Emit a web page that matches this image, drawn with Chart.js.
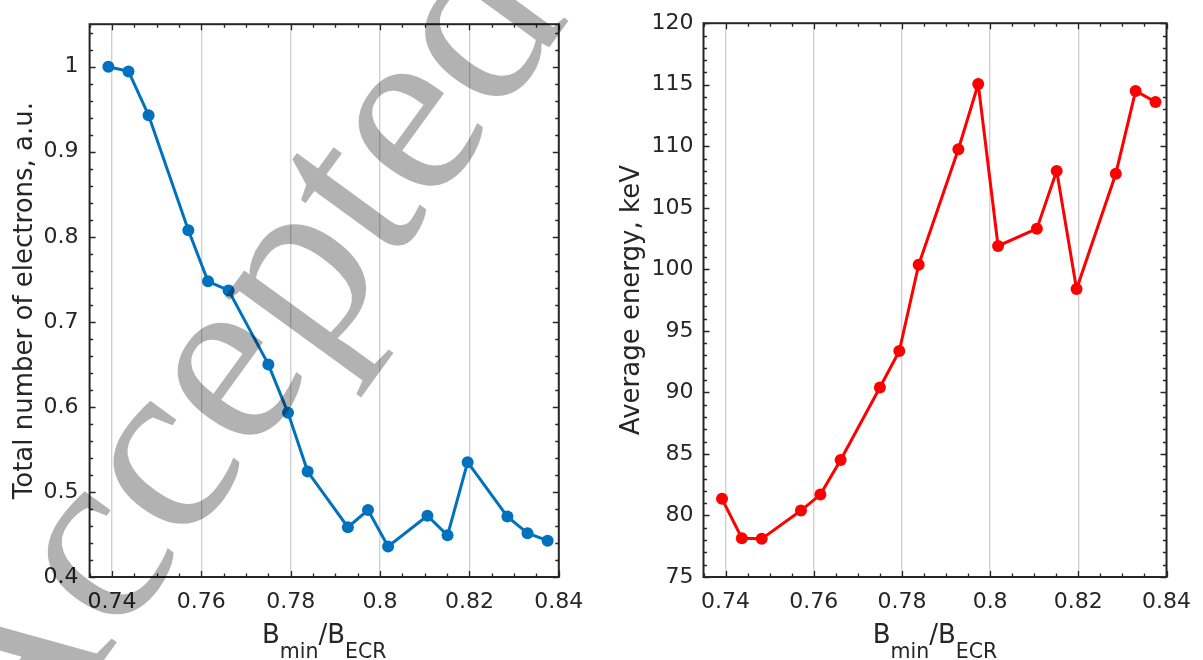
<!DOCTYPE html>
<html>
<head>
<meta charset="utf-8">
<script src="https://cdn.jsdelivr.net/npm/chart.js@4/dist/chart.umd.min.js"></script>
<style>
  body { margin: 0; background: #fff; }
  #wrap { position: relative; width: 1203px; height: 660px; }
  #left { position: absolute; left: 0; top: 0; }
  #right { position: absolute; left: 600px; top: 0; }
</style>
</head>
<body>
<div id="wrap">
  <canvas id="left" width="600" height="660"></canvas>
  <canvas id="right" width="603" height="660"></canvas>
</div>
<script>
// B_min / B_ECR values (shared by both panels)
const bRatio = [0.7392, 0.7437, 0.7482, 0.7571, 0.7615, 0.7661, 0.7750, 0.7794, 0.7838,
                0.7928, 0.7973, 0.8018, 0.8106, 0.8151, 0.8196, 0.8285, 0.8330, 0.8375];
const electrons = [1.0, 0.9945, 0.943, 0.8077, 0.7477, 0.737, 0.650, 0.593, 0.524,
                   0.4585, 0.4787, 0.436, 0.472, 0.449, 0.535, 0.471, 0.4515, 0.4427];
const energy = [81.35, 78.15, 78.1, 80.4, 81.7, 84.5, 90.4, 93.36, 100.38,
                109.76, 115.06, 101.9, 103.3, 108.0, 98.4, 107.77, 114.5, 113.6];

const xTicks = [0.74, 0.76, 0.78, 0.8, 0.82, 0.84];
const electronTicks = [0.4, 0.5, 0.6, 0.7, 0.8, 0.9, 1];
const energyTicks = [75, 80, 85, 90, 95, 100, 105, 110, 115, 120];

const electronTitle = 'Total number of electrons, a.u.';
const energyTitle = 'Average energy, keV';
// [text, isSubscript]
const xTitleParts = [['B', false], ['min', true], ['/B', false], ['ECR', true]];
const watermarkText = 'Accepted';

const INK = '#262626';
const FONT = 'DejaVu Sans';

// box round the plot with inward major/minor ticks on all four sides
const boxPlugin = {
  id: 'box',
  beforeDatasetsDraw(chart, args, opts) {
    const { ctx, chartArea: a, scales: { x, y } } = chart;
    ctx.save();
    ctx.strokeStyle = INK;
    ctx.lineWidth = 1.3;
    const isMajor = (v, list) => list.some(t => Math.abs(t - v) < 1e-9);

    const xn = Math.floor((x.max - x.min) / opts.xMinor + 1e-6);
    for (let i = 0; i <= xn; i++) {
      const v = x.min + i * opts.xMinor;
      const len = isMajor(v, xTicks) ? 6 : 3.5;
      const px = Math.round(x.getPixelForValue(v)) + 0.5;
      ctx.beginPath();
      ctx.moveTo(px, a.bottom); ctx.lineTo(px, a.bottom - len);
      ctx.moveTo(px, a.top); ctx.lineTo(px, a.top + len);
      ctx.stroke();
    }
    const yn = Math.floor((y.max - y.min) / opts.yMinor + 1e-6);
    for (let i = 0; i <= yn; i++) {
      const v = y.min + i * opts.yMinor;
      const len = isMajor(v, opts.yMajor) ? 6 : 3.5;
      const py = Math.round(y.getPixelForValue(v)) + 0.5;
      ctx.beginPath();
      ctx.moveTo(a.left, py); ctx.lineTo(a.left + len, py);
      ctx.moveTo(a.right, py); ctx.lineTo(a.right - len, py);
      ctx.stroke();
    }
    ctx.lineWidth = 2;
    ctx.strokeRect(a.left, a.top, a.right - a.left, a.bottom - a.top);
    ctx.restore();
  }
};

// x axis title with subscripts
const xTitlePlugin = {
  id: 'xTitle',
  afterDraw(chart) {
    const { ctx, chartArea: a } = chart;
    ctx.save();
    ctx.fillStyle = INK;
    ctx.textBaseline = 'alphabetic';
    const fontFor = sub => (sub ? 20.5 : 26) + 'px "' + FONT + '"';
    let total = 0;
    const widths = xTitleParts.map(([t, sub]) => {
      ctx.font = fontFor(sub);
      const w = ctx.measureText(t).width;
      total += w;
      return w;
    });
    let cx = (a.left + a.right) / 2 - total / 2;
    const base = a.bottom + 66;
    xTitleParts.forEach(([t, sub], i) => {
      ctx.font = fontFor(sub);
      ctx.fillText(t, cx, sub ? base + 15 : base);
      cx += widths[i];
    });
    ctx.restore();
  }
};

// grey "Accepted" stamp over the left panel
const watermarkPlugin = {
  id: 'watermark',
  afterDraw(chart) {
    const ctx = chart.ctx;
    ctx.save();
    ctx.translate(11, 788);
    ctx.rotate(-54 * Math.PI / 180);
    ctx.font = '252px "Liberation Serif"';
    ctx.fillStyle = 'rgba(0,0,0,0.3)';
    ctx.textBaseline = 'alphabetic';
    ctx.fillText(watermarkText, 0, 0);
    ctx.restore();
  }
};

function makeChart(id, values, color, yTicks, yMin, yMax, yMinor, title, layout, plugins) {
  return new Chart(document.getElementById(id), {
    type: 'line',
    data: {
      datasets: [{
        data: bRatio.map((b, i) => ({ x: b, y: values[i] })),
        borderColor: color,
        backgroundColor: color,
        borderWidth: 3,
        pointRadius: 6,
        pointBorderWidth: 0,
        pointBackgroundColor: color,
        tension: 0
      }]
    },
    options: {
      responsive: false,
      animation: false,
      layout: { padding: { top: 19, right: layout.right, bottom: 0, left: 0 } },
      plugins: {
        legend: { display: false },
        tooltip: { enabled: false },
        box: { xMinor: 0.005, yMinor: yMinor, yMajor: yTicks }
      },
      scales: {
        x: {
          type: 'linear',
          min: 0.735,
          max: 0.84,
          afterBuildTicks: s => { s.ticks = xTicks.map(v => ({ value: v })); },
          afterFit: s => { s.height = 83; },
          ticks: {
            callback: v => String(v),
            color: INK,
            font: { family: FONT, size: 22 },
            padding: 12,
            maxRotation: 0
          },
          grid: { display: true, drawTicks: false, color: 'rgba(0,0,0,0.18)', lineWidth: 1.4 },
          border: { display: false }
        },
        y: {
          type: 'linear',
          min: yMin,
          max: yMax,
          afterBuildTicks: s => { s.ticks = yTicks.map(v => ({ value: v })); },
          afterFit: s => { s.width = layout.left; },
          ticks: {
            callback: v => String(v),
            color: INK,
            font: { family: FONT, size: 22 },
            padding: layout.tickPad
          },
          grid: { display: false, drawTicks: false },
          border: { display: false },
          title: {
            display: true,
            text: title,
            color: INK,
            font: { family: FONT, size: 26 },
            padding: { top: layout.titlePad, bottom: 0 }
          }
        }
      }
    },
    plugins: plugins
  });
}

makeChart('left', electrons, '#0072BD', electronTicks, 0.4, 1.05, 0.02, electronTitle,
  { left: 89.6, right: 41.2, tickPad: 11, titlePad: 9.4 },
  [boxPlugin, xTitlePlugin, watermarkPlugin]);

makeChart('right', energy, '#FF0000', energyTicks, 75, 120, 1, energyTitle,
  { left: 103.5, right: 33.4, tickPad: 10, titlePad: 16.4 },
  [boxPlugin, xTitlePlugin]);
</script>
</body>
</html>
